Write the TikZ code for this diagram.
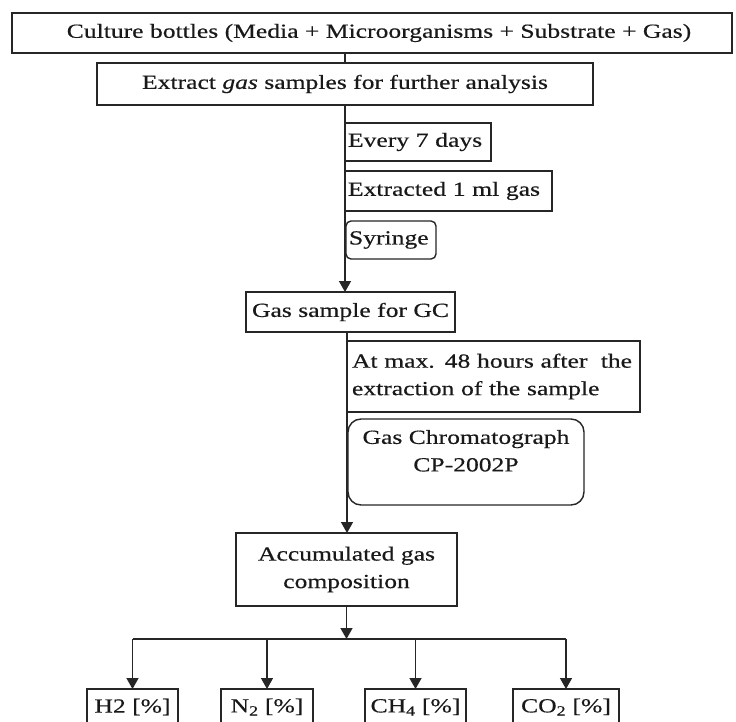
\documentclass[tikz,border=0pt]{standalone}
\usepackage{fontspec}
\setmainfont[FakeStretch=1.28,FakeBold=0.4]{Liberation Serif}
\usetikzlibrary{arrows.meta}
\begin{document}
\begin{tikzpicture}[x=1pt,y=-1pt,
  every node/.style={font=\fontsize{20}{27.5}\selectfont, inner sep=0pt, outer sep=0pt, text=black!90},
  box/.style={draw=black!85, line width=1.4pt, rectangle},
  rbox/.style={box, rounded corners=#1},
  ln/.style={draw=black!85, line width=1.5pt},
  arr/.style={ln, -{Triangle[width=12pt,length=11pt]}}]
\clip (0,0) rectangle (736,722);
\fill[white] (0,0) rectangle (736,722);

\node[box, minimum width=720, minimum height=40] (top) at (372,33) {\hspace*{14pt}Culture bottles (Media + Microorganisms + Substrate + Gas)};
\node[box, minimum width=496, minimum height=42] (extract) at (345,84) {Extract \textit{gas} samples for further analysis};

\node[box, anchor=north west, text width=140, inner xsep=3pt, minimum height=38, align=left] (every) at (345,123) {Every 7 days};
\node[box, anchor=north west, text width=201, inner xsep=3pt, minimum height=40, align=left] (extracted) at (345,171) {Extracted 1 ml gas};
\node[rbox=5pt, anchor=north west, text width=84, inner xsep=3pt, minimum height=38, align=left] (syringe) at (346,221) {Syringe};

\node[box, minimum width=209, minimum height=40] (gs) at (350.5,312) {Gas sample for GC};

\node[box, anchor=north west, text width=283, inner xsep=5pt, minimum height=71, align=left] (atmax) at (347,341) {At max. 48 hours after~ the\\extraction of the sample};
\node[rbox=13pt, minimum width=236, minimum height=86] (gc) at (466,462) {};
\node[anchor=north, align=center] (gct) at ([yshift=-11]gc.north) {Gas Chromatograph\\CP-2002P};

\node[box, minimum width=221, minimum height=73, align=center] (acc) at (346.5,569.5) {Accumulated gas\\composition};

\node[box, minimum width=91, minimum height=36] (h2) at (132.5,707) {H2 [\%]};
\node[box, minimum width=92, minimum height=36] (n2) at (267,707) {N\textsubscript{2} [\%]};
\node[box, minimum width=101, minimum height=36] (ch4) at (415.5,707) {CH\textsubscript{4} [\%]};
\node[box, minimum width=106, minimum height=36] (co2) at (566,707) {CO\textsubscript{2} [\%]};

\draw[ln] (top.south -| every.west) -- (extract.north -| every.west);
\draw[arr] (extract.south -| every.west) -- (gs.north -| every.west);
\draw[arr] (gs.south -| atmax.west) -- (acc.north -| atmax.west);

\coordinate (j) at (acc.south |- 0,639);
\draw[arr] (acc.south) -- (j);
\draw[ln] (h2.north |- j) -- (co2.north |- j);
\foreach \n in {h2,n2,ch4,co2} \draw[arr] (\n.north |- j) -- (\n.north);
\end{tikzpicture}
\end{document}
